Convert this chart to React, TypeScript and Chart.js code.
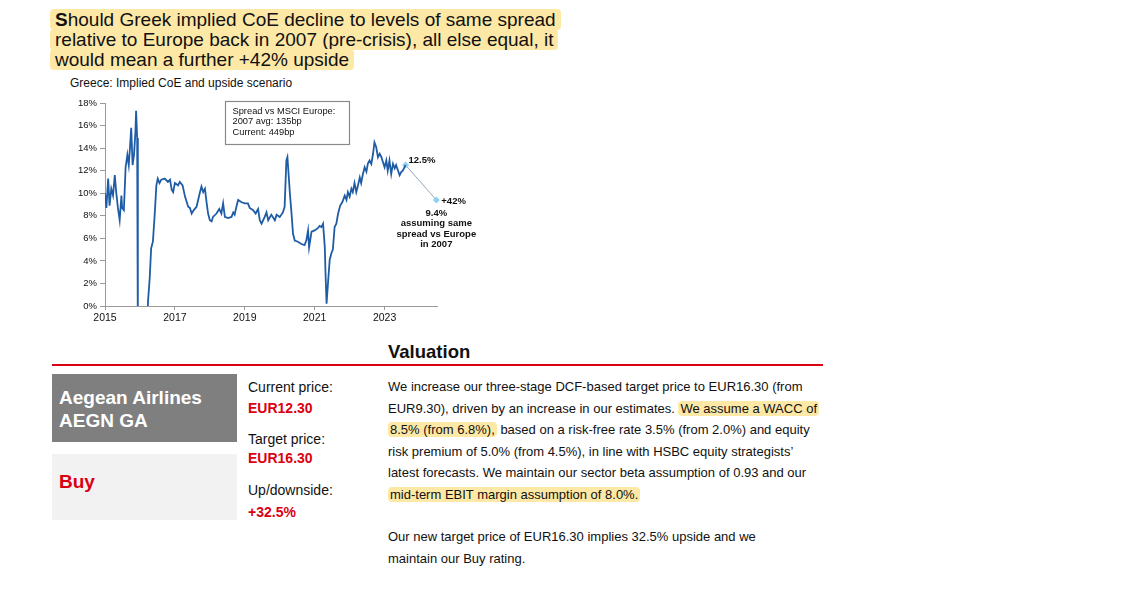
import React, { useEffect, useRef } from "react";
import { Chart, registerables } from "chart.js";

Chart.register(...registerables);

// Greece implied CoE (%), grouped by year
const coeYears: number[] = [
  2015.0, 2015.04, 2015.09, 2015.13, 2015.18, 2015.23, 2015.28, 2015.32, 2015.37, 2015.42, 2015.47, 2015.49, 2015.54, 2015.59, 2015.64, 2015.68, 2015.71, 2015.75, 2015.79, 2015.83, 2015.87, 2015.89, 2015.92, 2015.94,
  2016.2, 2016.23, 2016.28, 2016.32, 2016.37, 2016.42, 2016.47, 2016.51, 2016.56, 2016.61, 2016.71, 2016.8, 2016.86, 2016.91, 2016.95,
  2017.0, 2017.09, 2017.14, 2017.22, 2017.29, 2017.38, 2017.43, 2017.48, 2017.54, 2017.62, 2017.71, 2017.76, 2017.81, 2017.86, 2017.91, 2017.95,
  2018.0, 2018.05, 2018.09, 2018.19, 2018.27, 2018.33, 2018.38, 2018.43, 2018.52, 2018.62, 2018.67, 2018.71, 2018.76, 2018.81, 2018.91,
  2019.0, 2019.09, 2019.14, 2019.24, 2019.31, 2019.38, 2019.43, 2019.48, 2019.57, 2019.62, 2019.67, 2019.76, 2019.86, 2019.91,
  2020.0, 2020.09, 2020.14, 2020.19, 2020.22, 2020.26, 2020.29, 2020.33, 2020.38, 2020.43, 2020.52, 2020.62, 2020.71, 2020.76, 2020.81, 2020.84, 2020.91,
  2021.0, 2021.09, 2021.14, 2021.19, 2021.24, 2021.29, 2021.31, 2021.34, 2021.38, 2021.43, 2021.48, 2021.52, 2021.57, 2021.62, 2021.67, 2021.73, 2021.79, 2021.86, 2021.91, 2021.95,
  2022.0, 2022.05, 2022.09, 2022.14, 2022.19, 2022.24, 2022.29, 2022.33, 2022.38, 2022.43, 2022.48, 2022.52, 2022.57, 2022.62, 2022.67, 2022.71, 2022.76, 2022.81, 2022.86, 2022.91, 2022.95,
  2023.0, 2023.05, 2023.09, 2023.14, 2023.19, 2023.24, 2023.29, 2023.33, 2023.43, 2023.48, 2023.52, 2023.6,
];
const coeValues: number[] = [
  10.0, 8.7, 11.3, 8.9, 10.4, 9.8, 11.6, 10.1, 8.7, 7.6, 9.8, 8.7, 8.5, 12.3, 13.4, 12.5, 13.8, 15.8, 12.5, 13.4, 15.4, 17.3, 14.9, -3,
  -3, 0.4, 2.5, 5.1, 5.7, 8.0, 10.7, 11.3, 10.9, 11.2, 11.3, 11.0, 11.2, 10.3, 10.1,
  10.9, 10.7, 11.0, 10.7, 9.7, 8.8, 8.7, 8.2, 8.5, 8.8, 10.0, 10.6, 10.1, 10.4, 9.1, 8.2,
  7.6, 7.5, 7.9, 8.2, 8.6, 8.2, 9.1, 7.9, 7.8, 7.9, 8.3, 8.1, 8.8, 9.4, 9.2,
  9.1, 9.1, 8.7, 8.5, 8.2, 8.6, 7.6, 7.3, 7.9, 8.3, 7.6, 8.1, 7.6, 8.1,
  7.9, 8.3, 8.8, 12.9, 13.2, 11.4, 10.0, 8.5, 6.4, 5.8, 5.7, 5.5, 5.4, 5.8, 6.7, 5.2, 6.6,
  6.7, 6.9, 7.1, 7.0, 7.3, 5.2, 2.9, 0.2, 2.0, 4.1, 4.7, 5.0, 7.0, 7.3, 8.2, 8.9, 9.2, 9.8, 9.4, 10.1,
  9.7, 10.4, 10.1, 10.9, 10.1, 10.7, 11.4, 10.9, 11.7, 12.3, 11.9, 12.6, 12.9, 12.6, 13.5, 14.5, 14.1, 13.2, 13.5, 13.2, 12.8,
  12.3, 12.9, 12.0, 12.9, 11.7, 12.6, 12.2, 12.5, 11.6, 11.9, 12.0, 12.5,
];

// Upside scenario
const projYears: number[] = [2023.6, 2024.48];
const projValues: number[] = [12.5, 9.4];
const projLabelTop = "12.5%";
const projLabelSide = "+42%";
const projLabelBelow: string[] = ["9.4%", "assuming same", "spread vs Europe", "in 2007"];

const xTickYears: number[] = [2015, 2017, 2019, 2021, 2023];
const yMin = 0;
const yMax = 18;
const yStep = 2;

const boxLines: string[] = ["Spread vs MSCI Europe:", "2007 avg: 135bp", "Current: 449bp"];

const FONT = '"Liberation Sans", Arial, sans-serif';
const RED = "#db0011";
const HL = "#fde8a6";

const annotationPlugin = {
  id: "annot",
  afterDatasetsDraw(chart: any) {
    const ctx = chart.ctx;
    const ca = chart.chartArea;
    const xs = chart.scales.x;
    const ys = chart.scales.y;
    ctx.save();
    // text box
    const bx = ca.left + 120.5;
    const by = ca.top - 1.5;
    ctx.strokeStyle = "#8a8a8a";
    ctx.lineWidth = 1.2;
    ctx.fillStyle = "#fff";
    ctx.fillRect(bx, by, 124, 43);
    ctx.strokeRect(bx, by, 124, 43);
    ctx.fillStyle = "#111";
    ctx.font = `9.3px ${FONT}`;
    ctx.textBaseline = "middle";
    ctx.textAlign = "left";
    boxLines.forEach((t, i) => ctx.fillText(t, bx + 7, by + 9.5 + i * 10.5));

    // scenario labels
    const p0x = xs.getPixelForValue(projYears[0]);
    const p0y = ys.getPixelForValue(projValues[0]);
    const p1x = xs.getPixelForValue(projYears[1]);
    const p1y = ys.getPixelForValue(projValues[1]);
    ctx.font = `bold 9.5px ${FONT}`;
    ctx.fillStyle = "#111";
    ctx.fillText(projLabelTop, p0x + 3, p0y - 5);
    ctx.fillText(projLabelSide, p1x + 5, p1y + 1.5);
    ctx.textAlign = "center";
    const offs = [13, 23.5, 34, 44];
    projLabelBelow.forEach((t, i) => ctx.fillText(t, p1x, p1y + offs[i]));
    ctx.restore();
  },
};

function CoeChart() {
  const ref = useRef<HTMLCanvasElement | null>(null);
  useEffect(() => {
    if (!ref.current) return;
    const chart = new Chart(ref.current, {
      type: "line",
      data: {
        datasets: [
          {
            data: coeYears.map((x, i) => ({ x, y: coeValues[i] })),
            borderColor: "#1f5ca6",
            borderWidth: 1.8,
            pointRadius: 0,
            tension: 0,
          },
          {
            data: projYears.map((x, i) => ({ x, y: projValues[i] })),
            borderColor: "#98a6bd",
            borderWidth: 1,
            pointRadius: 3.5,
            pointStyle: "rectRot",
            pointBackgroundColor: "#8fd0f2",
            pointBorderWidth: 0,
            clip: false as any,
          },
        ],
      },
      options: {
        animation: false,
        responsive: false,
        maintainAspectRatio: false,
        layout: { padding: { top: 13, right: 63, left: 0, bottom: 0 } },
        plugins: { legend: { display: false }, tooltip: { enabled: false } },
        scales: {
          x: {
            type: "linear",
            min: 2015,
            max: 2024.5,
            afterBuildTicks: (scale: any) => {
              scale.ticks = xTickYears.map((v) => ({ value: v }));
            },
            afterFit: (scale: any) => {
              scale.height = 24;
            },
            grid: { drawOnChartArea: false, drawTicks: true, tickLength: 4, color: "#9a9a9a" },
            border: { display: true, color: "#9a9a9a" },
            ticks: {
              font: { family: FONT, size: 10.5 },
              color: "#111",
              padding: 2,
              maxRotation: 0,
              callback: (v: any) => String(v),
            },
          },
          y: {
            min: yMin,
            max: yMax,
            afterFit: (scale: any) => {
              scale.width = 45;
            },
            grid: { drawOnChartArea: false, drawTicks: true, tickLength: 5, color: "#9a9a9a" },
            border: { display: true, color: "#9a9a9a" },
            ticks: {
              stepSize: yStep,
              font: { family: FONT, size: 9.5 },
              color: "#111",
              padding: 3,
              callback: (v: any) => `${v}%`,
            },
          },
        },
      } as any,
      plugins: [annotationPlugin],
    });
    return () => chart.destroy();
  }, []);
  return (
    <canvas
      ref={ref}
      width={440}
      height={240}
      style={{ position: "absolute", left: 60, top: 90, width: 440, height: 240 }}
    />
  );
}

const hl: React.CSSProperties = {
  background: HL,
  padding: "0 5px",
  borderRadius: 4,
  WebkitBoxDecorationBreak: "clone" as any,
  boxDecorationBreak: "clone" as any,
};

export default function App() {
  const abs = (left: number, top: number, extra: React.CSSProperties = {}): React.CSSProperties => ({
    position: "absolute",
    left,
    top,
    whiteSpace: "nowrap",
    ...extra,
  });
  return (
    <div
      style={{
        position: "absolute",
        left: 0,
        top: 0,
        width: 1134,
        height: 604,
        background: "#fff",
        fontFamily: FONT,
        color: "#111",
        overflow: "hidden",
      }}
    >
      <div style={abs(50, 10, { fontSize: 19, lineHeight: "20px" })}>
        <span style={hl}>
          <b>S</b>hould Greek implied CoE decline to levels of same spread
          <br />
          relative to Europe back in 2007 (pre-crisis), all else equal, it
          <br />
          would mean a further +42% upside
        </span>
      </div>

      <div style={abs(70, 76, { fontSize: 12, lineHeight: "14px" })}>Greece: Implied CoE and upside scenario</div>

      <CoeChart />

      <div style={abs(388, 341, { fontSize: 18.5, lineHeight: "22px", fontWeight: "bold" })}>Valuation</div>
      <div style={{ position: "absolute", left: 52, top: 364, width: 771, height: 2, background: RED }} />

      <div style={{ position: "absolute", left: 52, top: 374, width: 185, height: 68, background: "#7f7f7f" }} />
      <div style={abs(59, 385.5, { fontSize: 19, lineHeight: "23px", fontWeight: "bold", color: "#fff" })}>
        Aegean Airlines
        <br />
        AEGN GA
      </div>
      <div style={{ position: "absolute", left: 52, top: 454, width: 185, height: 66, background: "#f2f2f2" }} />
      <div style={abs(59, 469.5, { fontSize: 19, lineHeight: "23px", fontWeight: "bold", color: RED })}>Buy</div>

      <div style={abs(248, 378.5, { fontSize: 14, lineHeight: "16px" })}>Current price:</div>
      <div style={abs(248, 400, { fontSize: 14, lineHeight: "16px", fontWeight: "bold", color: RED })}>EUR12.30</div>
      <div style={abs(248, 430.5, { fontSize: 14, lineHeight: "16px" })}>Target price:</div>
      <div style={abs(248, 450, { fontSize: 14, lineHeight: "16px", fontWeight: "bold", color: RED })}>EUR16.30</div>
      <div style={abs(248, 482, { fontSize: 14, lineHeight: "16px" })}>Up/downside:</div>
      <div style={abs(248, 503.5, { fontSize: 14, lineHeight: "16px", fontWeight: "bold", color: RED })}>+32.5%</div>

      <div style={abs(388, 376, { fontSize: 13, lineHeight: "21.5px" })}>
        We increase our three-stage DCF-based target price to EUR16.30 (from
        <br />
        EUR9.30), driven by an increase in our estimates. <span style={{ ...hl, padding: "0 2px" }}>We assume a WACC of</span>
        <br />
        <span style={{ ...hl, padding: "0 2px" }}>8.5% (from 6.8%),</span> based on a risk-free rate 3.5% (from 2.0%) and equity
        <br />
        risk premium of 5.0% (from 4.5%), in line with HSBC equity strategists’
        <br />
        latest forecasts. We maintain our sector beta assumption of 0.93 and our
        <br />
        <span style={{ ...hl, padding: "0 2px" }}>mid-term EBIT margin assumption of 8.0%.</span>
      </div>
      <div style={abs(388, 526, { fontSize: 13, lineHeight: "21.5px" })}>
        Our new target price of EUR16.30 implies 32.5% upside and we
        <br />
        maintain our Buy rating.
      </div>
    </div>
  );
}
